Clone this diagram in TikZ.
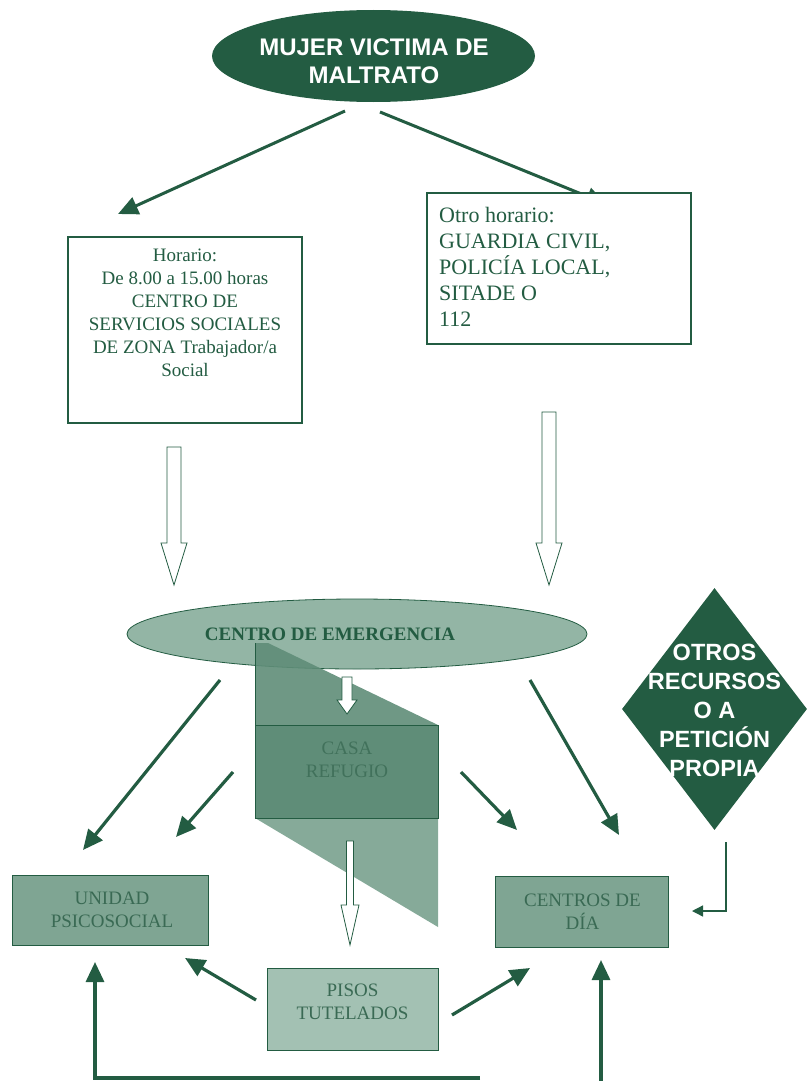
\documentclass[tikz,border=0pt]{standalone}
\usepackage{fontspec}
\setmainfont{Liberation Serif}
\newfontfamily\headfont{Liberation Sans}
\usetikzlibrary{shapes.geometric,arrows.meta}
\definecolor{dg}{HTML}{235C42}
\definecolor{boxfill}{HTML}{7FA593}
\definecolor{ellfill}{HTML}{93B5A5}
\definecolor{pisofill}{HTML}{A3C1B3}
\definecolor{prismdark}{HTML}{5F8D78}
\definecolor{prismlight}{HTML}{86AA99}
\definecolor{softtxt}{HTML}{3A6A54}
\newcommand\holarrow[6]{% x, ytop, ybot, half shaft, half head, head start
  \draw[hollow] (#1-#4,#2) -- (#1+#4,#2) -- (#1+#4,#6) -- (#1+#5,#6) -- (#1,#3)
    -- (#1-#5,#6) -- (#1-#4,#6) -- cycle;}
\begin{document}
\begin{tikzpicture}[x=1pt,y=-1pt,
  arr/.style={draw=dg, line width=3.2pt, -{Triangle[length=20pt,width=18pt]}},
  thinarr/.style={draw=dg, line width=1.4pt, -{Triangle[length=11pt,width=11pt]}},
  hollow/.style={draw=dg, fill=white, line width=0.8pt},
  plainbox/.style={draw=dg, line width=1.2pt, fill=white, inner sep=0pt},
  greenbox/.style={draw=dg, line width=1pt, fill=boxfill, inner sep=0pt},
  boxtext/.style={text=softtxt, align=center, font=\fontsize{19}{23}\selectfont},
  whitetext/.style={text=white, align=center, font=\headfont\bfseries\fontsize{23.5}{29}\selectfont}
]
\useasboundingbox (0,0) rectangle (807,1081);

% top ellipse
\node[ellipse, fill=dg, minimum width=323pt, minimum height=92pt, inner sep=0pt] (mujer) at (373.5,56) {};
\node[text=white, align=center, font=\headfont\bfseries\fontsize{24}{28}\selectfont] (mujertxt) at (374,61) {MUJER VICTIMA DE\\MALTRATO};

% arrows from top
\coordinate (m1) at (345,111);
\coordinate (m2) at (380,112);
\coordinate (h1) at (118,214);
\coordinate (h2) at (606,204);
\draw[arr, line width=3pt] (m1) -- (h1);
\draw[arr, line width=3pt] (m2) -- (h2);

% left box
\node[plainbox, minimum width=234pt, minimum height=186pt] (horario) at (185,330) {};
\node[anchor=north, inner sep=0pt, align=center, text=dg, font=\fontsize{19}{23}\selectfont] (horariotxt) at (185,249)
 {Horario:\\De 8.00 a 15.00 horas\\CENTRO DE\\SERVICIOS SOCIALES\\DE ZONA Trabajador/a\\Social};

% right box
\node[plainbox, minimum width=264pt, minimum height=151pt] (otro) at (559,268.5) {};
\node[anchor=north west, inner sep=0pt, align=left, text=dg, font=\fontsize{22}{26}\selectfont] (otrotxt) at (439,207)
 {Otro horario:\\GUARDIA CIVIL,\\POLICÍA LOCAL,\\SITADE O\\112};

% hollow arrows
\holarrow{174}{447}{585}{7}{13}{543}
\holarrow{549}{412}{585}{7}{13}{543}

% centro de emergencia
\node[ellipse, draw=dg, line width=0.8pt, fill=ellfill, minimum width=460pt, minimum height=70pt, inner sep=0pt] (emerg) at (357,634) {};

% prism (casa refugio)
\fill[prismdark, opacity=0.9] (255,643) -- (268,643) -- (438,725) -- (255,725) -- cycle;
\fill[prismlight] (255,818) -- (438,818) -- (438,927) -- cycle;
\node[draw=dg, line width=0.6pt, fill=prismdark, minimum width=183pt, minimum height=93pt, inner sep=0pt] (casa) at (346.5,771.5) {};
\draw[dg, line width=0.6pt] (255,643) -- (255,725);
\node[text=dg, font=\bfseries\fontsize{19}{23}\selectfont] (emergtxt) at (330,634) {CENTRO DE EMERGENCIA};
\node[boxtext, text=softtxt!80!prismdark] (casatxt) at (347,760) {CASA\\REFUGIO};
\holarrow{347}{677}{714}{5}{10}{700}
\holarrow{350}{841}{945}{3.5}{9}{905}

% target boxes
\node[greenbox, minimum width=196pt, minimum height=70pt] (unidad) at (110,910) {};
\node[boxtext] (unidadtxt) at (112,910) {UNIDAD\\PSICOSOCIAL};
\node[greenbox, minimum width=173pt, minimum height=71pt] (centros) at (581.5,911.5) {};
\node[boxtext] (centrostxt) at (582.5,912) {CENTROS DE\\DÍA};
\node[greenbox, fill=pisofill, minimum width=171pt, minimum height=82pt] (pisos) at (352.5,1009) {};
\node[boxtext] (pisostxt) at (352.5,1002) {PISOS\\TUTELADOS};

% diamond
\node[diamond, fill=dg, minimum width=185pt, minimum height=242pt, inner sep=0pt] (otros) at (714.5,709) {};
\node[whitetext] (otrostxt) at (714.5,710) {OTROS\\RECURSOS\\O A\\PETICIÓN\\PROPIA};

% arrows from emergencia
\coordinate (e1) at (220,680);  \coordinate (u1) at (83,850);
\coordinate (e2) at (233,772);  \coordinate (u2) at (176,837);
\coordinate (e3) at (461,772);  \coordinate (c3) at (517,830);
\coordinate (e4) at (530,680);  \coordinate (c4) at (619,835);
\draw[arr] (e1) -- (u1);
\draw[arr] (e2) -- (u2);
\draw[arr] (e3) -- (c3);
\draw[arr] (e4) -- (c4);

% from pisos
\coordinate (p1) at (256,1000); \coordinate (u3) at (185,958);
\coordinate (p2) at (452,1015); \coordinate (c5) at (530,968);
\draw[arr] (p1) -- (u3);
\draw[arr] (p2) -- (c5);

% bottom returns
\coordinate (b1) at (480,1078);
\coordinate (u4) at (95,962);
\coordinate (b2) at (601,1081);
\coordinate (c6) at (601,960);
\draw[arr] (b1) -- (95,1078) -- (u4);
\draw[arr] (b2) -- (c6);

% from diamond
\coordinate (o1) at (726,842);
\coordinate (c7) at (692,911);
\draw[thinarr] (o1) |- (c7);
\end{tikzpicture}
\end{document}
